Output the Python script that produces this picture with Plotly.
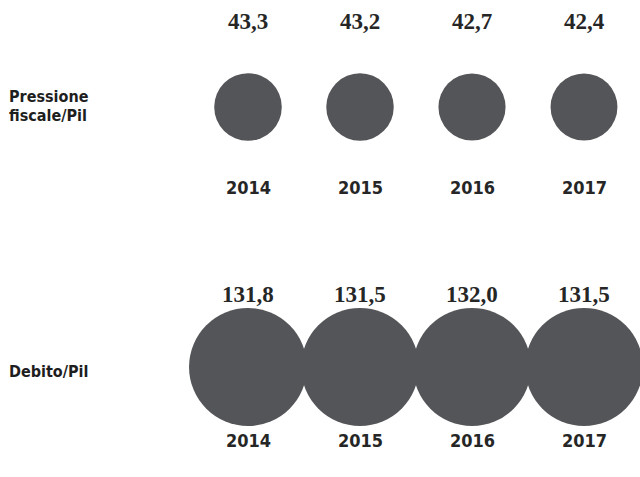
import plotly.graph_objects as go
import numpy as np

years = ["2014", "2015", "2016", "2017"]
pressione = [43.3, 43.2, 42.7, 42.4]
debito = [131.8, 131.5, 132.0, 131.5]
row_labels = [["Pressione", "fiscale/Pil"], ["Debito/Pil"]]

def fmt(v):
    return f"{v:.1f}".replace(".", ",")

xs = list(range(len(years)))
k = 118 / np.sqrt(132.0)
rows = [(1, pressione, 86, -80), (0, debito, 73, -73)]

fig = go.Figure()
for yrow, vals, up, down in rows:
    fig.add_trace(go.Scatter(
        x=xs, y=[yrow] * len(xs), mode="markers",
        marker=dict(size=[k * np.sqrt(v) for v in vals], color="#545558",
                    opacity=1, line=dict(width=0)),
        hoverinfo="skip", showlegend=False))
    for x, v, yr in zip(xs, vals, years):
        fig.add_annotation(x=x, y=yrow, text=fmt(v), showarrow=False, yshift=up,
                           font=dict(family="Liberation Serif", size=23, color="#262626", weight="bold"))
        fig.add_annotation(x=x, y=yrow, text=yr, showarrow=False, yshift=down,
                           font=dict(family="DejaVu Sans Condensed, DejaVu Sans", size=18, color="#262626", weight="bold"))

for yrow, lines in zip([1, 0], row_labels):
    n = len(lines)
    for i, lab in enumerate(lines):
        fig.add_annotation(xref="paper", x=0.012, y=yrow, text=lab, showarrow=False,
                           xanchor="left", align="left", borderpad=0,
                           yshift=(n - 1) * 9.5 - i * 19 + (1 if n > 1 else -4),
                           font=dict(family="DejaVu Sans Condensed, DejaVu Sans", size=16, color="#1e1e1e", weight="bold"))

fig.update_layout(
    width=640, height=477, margin=dict(l=0, r=0, t=0, b=0),
    paper_bgcolor="white", plot_bgcolor="white",
    xaxis=dict(range=[-248 / 112, (640 - 248) / 112], visible=False, fixedrange=True),
    yaxis=dict(range=[-(477 - 367) / 260, 1 + 107 / 260], visible=False, fixedrange=True),
)
fig.write_html("out.html")
